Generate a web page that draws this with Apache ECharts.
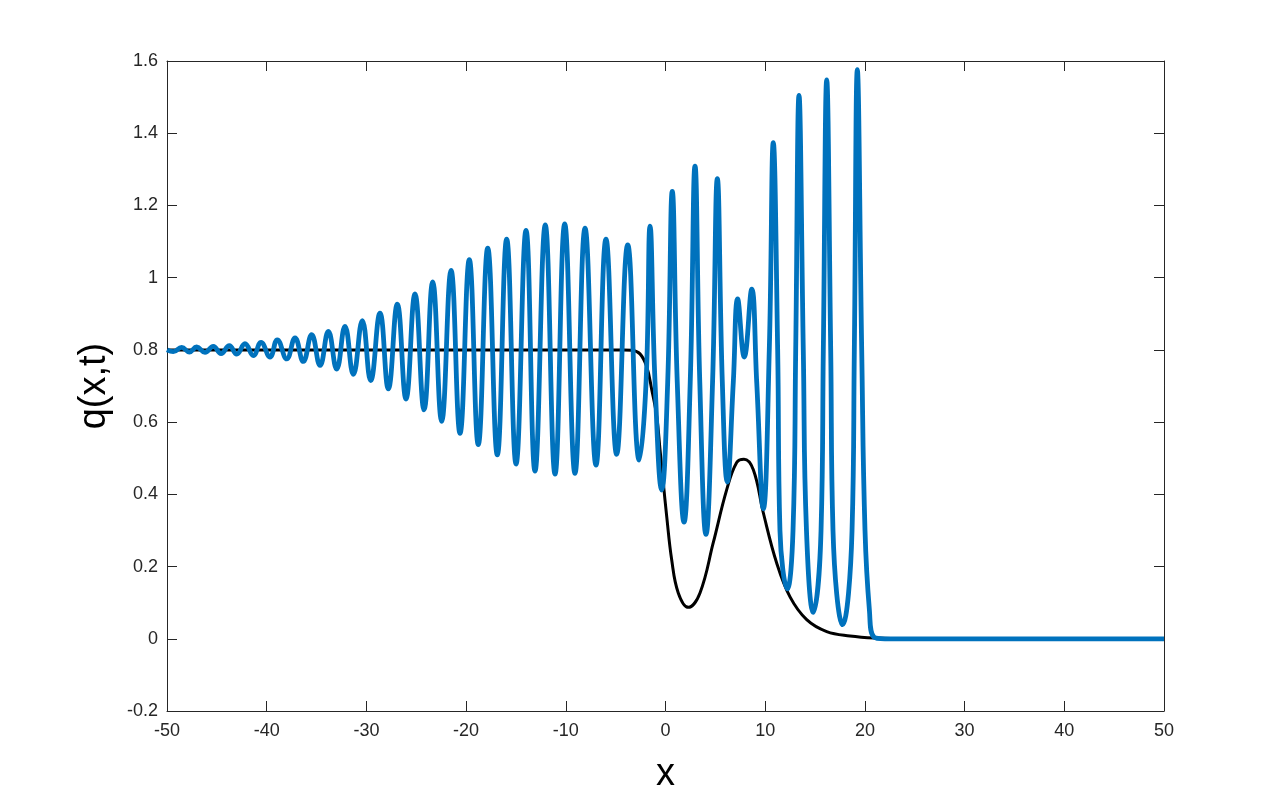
<!DOCTYPE html>
<html>
<head>
<meta charset="utf-8">
<script src="https://cdn.jsdelivr.net/npm/echarts@6/dist/echarts.min.js"></script>
<style>
html,body{margin:0;padding:0;background:#fff;}
#chart{width:1286px;height:800px;}
</style>
</head>
<body>
<div id="chart"></div>
<script>
// x-axis ticks and y-axis ticks
const xTicks = [-50, -40, -30, -20, -10, 0, 10, 20, 30, 40, 50];
const yTicks = [-0.2, 0, 0.2, 0.4, 0.6, 0.8, 1, 1.2, 1.4, 1.6];

// Black curve (initial profile): x positions and values
const blackX = [-50, -4.2, -3.39, -2.56, -1.89, -1.38, -0.88, -0.55, -0.22, 0.12, 0.62, 1.28, 2.29, 3.46, 4.79, 6.14, 7.14, 7.87, 8.81, 9.81, 11.15, 12.49, 14.16, 16.17, 18.51, 21.18, 24, 50];
const blackY = [0.8, 0.8, 0.799, 0.789, 0.754, 0.69, 0.616, 0.524, 0.432, 0.339, 0.219, 0.127, 0.087, 0.127, 0.266, 0.413, 0.488, 0.497, 0.468, 0.349, 0.21, 0.116, 0.053, 0.02, 0.008, 0.002, 0, 0];

// Blue curve (evolved profile): x positions and values
const blueX = [-50, -49.37, -48.53, -47.76, -47.02, -46.19, -45.36, -44.58, -43.75, -43.01, -42.18, -41.34, -40.57, -39.67, -38.94, -37.99, -37.16, -36.33, -35.49, -34.65, -33.82, -32.98, -32.15, -31.31, -30.41, -29.57, -28.64, -27.80, -26.90, -26.03, -25.13, -24.22, -23.35, -22.45, -21.51, -20.61, -19.68, -18.78, -17.83, -16.87, -15.93, -14.99, -13.99, -13.09, -12.06, -11.08, -10.11, -9.08, -8.07, -6.97, -5.97, -4.90, -3.79, -2.63, -1.95, -1.55, -1.05, -0.38, 0.22, 0.68, 1.18, 1.86, 2.48, 2.96, 3.44, 4.06, 4.72, 5.20, 5.70, 6.20, 6.80, 7.24, 7.90, 8.65, 9.15, 9.81, 10.41, 10.81, 11.25, 11.48, 12.22, 12.79, 13.06, 13.39, 13.82, 14.14, 14.82, 15.60, 15.83, 16.17, 16.57, 16.80, 17.77, 18.71, 18.94, 19.24, 19.68, 20.01, 20.45, 20.90, 22, 50];
const blueY = [0.800, 0.795, 0.807, 0.794, 0.808, 0.793, 0.810, 0.790, 0.812, 0.788, 0.817, 0.784, 0.821, 0.780, 0.828, 0.775, 0.833, 0.768, 0.842, 0.757, 0.851, 0.747, 0.865, 0.732, 0.881, 0.715, 0.902, 0.692, 0.927, 0.664, 0.955, 0.634, 0.988, 0.602, 1.020, 0.569, 1.050, 0.538, 1.082, 0.509, 1.107, 0.484, 1.131, 0.464, 1.146, 0.456, 1.149, 0.458, 1.137, 0.481, 1.107, 0.511, 1.091, 0.495, 0.71, 1.143, 0.71, 0.412, 0.71, 1.239, 0.71, 0.323, 0.71, 1.309, 0.71, 0.289, 0.71, 1.274, 0.71, 0.434, 0.71, 0.941, 0.780, 0.968, 0.71, 0.360, 0.80, 1.374, 0.80, 0.30, 0.138, 0.30, 0.80, 1.505, 0.80, 0.30, 0.073, 0.30, 0.80, 1.548, 0.80, 0.30, 0.039, 0.30, 0.80, 1.576, 0.80, 0.30, 0.08, 0.005, 0, 0];

const FONT = 'Liberation Sans, Arial, Helvetica, sans-serif';
const AX = '#262626';

const chart = echarts.init(document.getElementById('chart'), null, {renderer: 'canvas'});
const zip = (xs, ys) => xs.map((x, i) => [x, ys[i]]);

const baseX = {
  type: 'value', min: xTicks[0], max: xTicks[xTicks.length - 1], interval: 10,
  axisLine: {show: true, onZero: false, lineStyle: {color: AX, width: 1}},
  axisTick: {show: true, inside: true, length: 10, lineStyle: {color: AX}},
  splitLine: {show: false}
};
const baseY = {
  type: 'value', min: yTicks[0], max: yTicks[yTicks.length - 1], interval: 0.2,
  axisLine: {show: true, onZero: false, lineStyle: {color: AX, width: 1}},
  axisTick: {show: true, inside: true, length: 10, lineStyle: {color: AX}},
  splitLine: {show: false}
};

chart.setOption({
  animation: false,
  backgroundColor: '#ffffff',
  grid: {left: 167, right: 122, top: 61, bottom: 89, containLabel: false},
  xAxis: [
    Object.assign({}, baseX, {
      position: 'bottom',
      axisLabel: {show: true, color: AX, fontSize: 18, fontFamily: FONT, margin: 11},
      name: 'x', nameLocation: 'middle', nameGap: 45,
      nameTextStyle: {fontSize: 38, color: '#000', fontFamily: FONT}
    }),
    Object.assign({}, baseX, {position: 'top', axisLabel: {show: false}})
  ],
  yAxis: [
    Object.assign({}, baseY, {
      position: 'left',
      axisLabel: {show: true, color: AX, fontSize: 18, fontFamily: FONT, margin: 9,
        formatter: v => String(Math.round(v * 10) / 10)},
      name: 'q(x,t)', nameLocation: 'middle', nameGap: 53, nameRotate: 90,
      nameTextStyle: {fontSize: 38, color: '#000', fontFamily: FONT}
    }),
    Object.assign({}, baseY, {position: 'right', axisLabel: {show: false}})
  ],
  series: [
    {
      type: 'line', name: 'initial', data: zip(blackX, blackY),
      xAxisIndex: 0, yAxisIndex: 0, showSymbol: false, smooth: 0.4,
      lineStyle: {color: '#000000', width: 3}, z: 2
    },
    {
      type: 'line', name: 'evolved', data: zip(blueX, blueY),
      xAxisIndex: 0, yAxisIndex: 0, showSymbol: false, smooth: 0.45,
      lineStyle: {color: '#0072BD', width: 4.8}, z: 3
    }
  ]
});
</script>
</body>
</html>
